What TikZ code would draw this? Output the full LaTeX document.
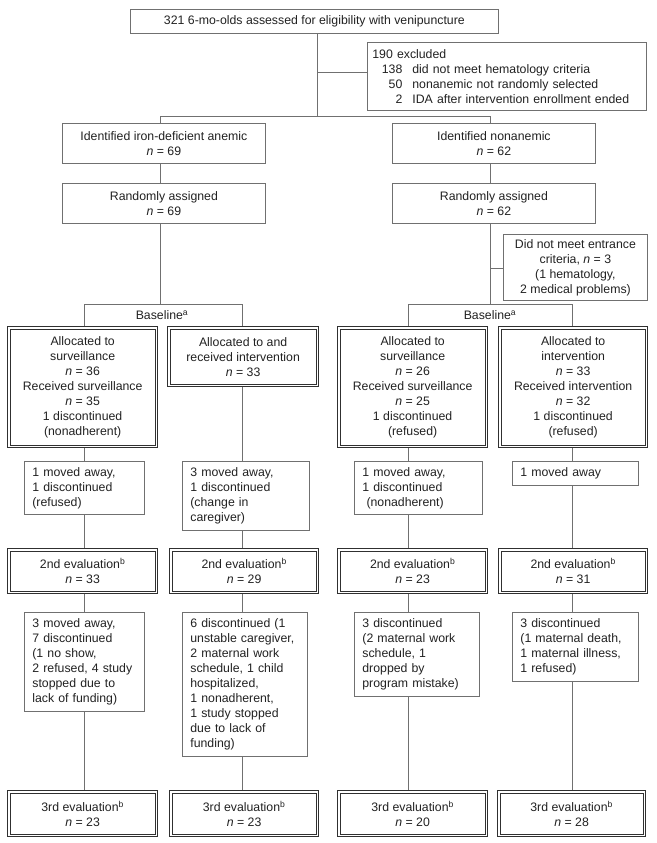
\documentclass[tikz,border=0pt]{standalone}
\usepackage{fontspec}
\setmainfont{Liberation Sans}
\definecolor{txt}{HTML}{222222}
\definecolor{ln}{HTML}{707070}
\definecolor{dln}{HTML}{303030}
\pgfdeclarelayer{bg}
\pgfsetlayers{bg,main}
\begin{document}
\begin{tikzpicture}[x=1pt,y=-1pt,
 every node/.style={font=\fontsize{12.3}{15}\selectfont, text=txt},
 sbox/.style={draw=ln, line width=0.8pt, inner sep=0pt, anchor=north west, align=center},
 lbox/.style={draw=ln, line width=0.8pt, inner xsep=8pt, inner ysep=0pt, anchor=north west, align=left},
 dbox/.style={draw=dln, line width=1.3pt, inner sep=0pt, anchor=north west, align=center},
 dinner/.style={draw=dln, line width=0.7pt},
 conn/.style={draw=ln, line width=0.8pt}]
\begin{pgfonlayer}{bg}
\fill[white] (0,0) rectangle (656,843);
\end{pgfonlayer}
\path[use as bounding box] (0,0) rectangle (656,843);

% top part
\node[sbox, minimum width=368, minimum height=24] (top) at (130,9) {321 6-mo-olds assessed for eligibility with venipuncture};
\node[sbox, align=left, inner xsep=5pt, text width=269, minimum width=279, minimum height=68] (exc) at (367,42)
 {190 excluded\\
  \makebox[30pt][r]{138}\hspace{10pt}did not meet hematology criteria\\
  \makebox[30pt][r]{50}\hspace{10pt}nonanemic not randomly selected\\
  \makebox[30pt][r]{2}\hspace{10pt}IDA after intervention enrollment ended};

\node[sbox, minimum width=203, minimum height=40] (id1) at (62,123) {Identified iron-deficient anemic\\\textit{n} = 69};
\node[sbox, minimum width=203, minimum height=40] (id2) at (392,123) {Identified nonanemic\\\textit{n} = 62};
\node[sbox, minimum width=203, minimum height=40] (rnd1) at (62,183) {Randomly assigned\\\textit{n} = 69};
\node[sbox, minimum width=203, minimum height=40] (rnd2) at (392,183) {Randomly assigned\\\textit{n} = 62};
\node[sbox, minimum width=144, minimum height=66] (dn) at (503,234) {Did not meet entrance\\criteria, \textit{n} = 3\\(1 hematology,\\2 medical problems)};

\node (bt1) at (162,315) {Baseline\textsuperscript{a}};
\node (bt2) at (490,315) {Baseline\textsuperscript{a}};

% allocation
\node[dbox, minimum width=150, minimum height=121] (a1) at (7,326) {Allocated to\\surveillance\\\textit{n} = 36\\Received surveillance\\\textit{n} = 35\\1 discontinued\\(nonadherent)};
\node[dbox, minimum width=151, minimum height=60] (a2) at (167,326) {Allocated to and\\received intervention\\\textit{n} = 33};
\node[dbox, minimum width=150, minimum height=121] (a3) at (337,326) {Allocated to\\surveillance\\\textit{n} = 26\\Received surveillance\\\textit{n} = 25\\1 discontinued\\(refused)};
\node[dbox, minimum width=149, minimum height=121] (a4) at (498,326) {Allocated to\\intervention\\\textit{n} = 33\\Received intervention\\\textit{n} = 32\\1 discontinued\\(refused)};

% losses before 2nd evaluation
\node[lbox, text width=104, minimum width=120, minimum height=53] (m1) at (24,461) {1 moved away,\\1 discontinued\\(refused)};
\node[lbox, text width=111, minimum width=127, minimum height=69] (m2) at (182,461) {3 moved away,\\1 discontinued\\(change in\\caregiver)};
\node[lbox, text width=112, minimum width=128, minimum height=53] (m3) at (354,461) {1 moved away,\\1 discontinued\\\ (nonadherent)};
\node[lbox, text width=110, minimum width=126, minimum height=24] (m4) at (512,461) {1 moved away};

% 2nd evaluation
\node[dbox, minimum width=150, minimum height=45] (e1) at (7,548) {2nd evaluation\textsuperscript{b}\\\textit{n} = 33};
\node[dbox, minimum width=149, minimum height=45] (e2) at (169,548) {2nd evaluation\textsuperscript{b}\\\textit{n} = 29};
\node[dbox, minimum width=150, minimum height=45] (e3) at (337,548) {2nd evaluation\textsuperscript{b}\\\textit{n} = 23};
\node[dbox, minimum width=149, minimum height=45] (e4) at (498,548) {2nd evaluation\textsuperscript{b}\\\textit{n} = 31};

% losses before 3rd evaluation
\node[lbox, text width=104, minimum width=120, minimum height=99] (r1) at (24,612) {3 moved away,\\7 discontinued\\(1 no show,\\2 refused, 4 study\\stopped due to\\lack of funding)};
\node[lbox, text width=109, minimum width=125, minimum height=144] (r2) at (182,612) {6 discontinued (1\\unstable caregiver,\\2 maternal work\\schedule, 1 child\\hospitalized,\\1 nonadherent,\\1 study stopped\\due to lack of\\funding)};
\node[lbox, text width=109, minimum width=125, minimum height=84] (r3) at (354,612) {3 discontinued\\(2 maternal work\\schedule, 1\\dropped by\\program mistake)};
\node[lbox, text width=110, minimum width=126, minimum height=69] (r4) at (512,612) {3 discontinued\\(1 maternal death,\\1 maternal illness,\\1 refused)};

% 3rd evaluation
\node[dbox, minimum width=150, minimum height=46] (f1) at (7,790) {3rd evaluation\textsuperscript{b}\\\textit{n} = 23};
\node[dbox, minimum width=149, minimum height=46] (f2) at (169,790) {3rd evaluation\textsuperscript{b}\\\textit{n} = 23};
\node[dbox, minimum width=150, minimum height=46] (f3) at (337,790) {3rd evaluation\textsuperscript{b}\\\textit{n} = 20};
\node[dbox, minimum width=148, minimum height=46] (f4) at (497,790) {3rd evaluation\textsuperscript{b}\\\textit{n} = 28};

% inner lines of the double frames
\foreach \b in {a1,a2,a3,a4,e1,e2,e3,e4,f1,f2,f3,f4}
  \draw[dinner] ([shift={(3.3,3.3)}]\b.north west) rectangle ([shift={(-3.3,-3.3)}]\b.south east);

% helper coordinates
\coordinate (j) at (317,116);
\coordinate (jb) at (317,72);
\coordinate (cl) at (160,0);
\coordinate (cr) at (490,0);
\coordinate (bl) at (0,304);
\coordinate (dnj) at (0,268);
\coordinate (c1) at (84,0);
\coordinate (c2) at (242,0);
\coordinate (c3) at (408,0);
\coordinate (c4) at (572,0);

\begin{pgfonlayer}{bg}
\draw[conn] (top.south -| j) -- (j);
\draw[conn] (jb) -- (exc.west |- jb);
\draw[conn] (id1.north -| cl) -- (cl |- j) -- (cr |- j) -- (id2.north -| cr);
\draw[conn] (id1.south -| cl) -- (rnd1.north -| cl);
\draw[conn] (id2.south -| cr) -- (rnd2.north -| cr);
\draw[conn] (rnd1.south -| cl) -- (cl |- bl);
\draw[conn] (rnd2.south -| cr) -- (cr |- bl);
\draw[conn] (dn.west |- dnj) -- (cr |- dnj);
\draw[conn] (a1.north -| c1) -- (c1 |- bl) -- (c2 |- bl) -- (a2.north -| c2);
\draw[conn] (a3.north -| c3) -- (c3 |- bl) -- (c4 |- bl) -- (a4.north -| c4);
\draw[conn] (a1.south -| c1) -- (m1.north -| c1);
\draw[conn] (a2.south -| c2) -- (m2.north -| c2);
\draw[conn] (a3.south -| c3) -- (m3.north -| c3);
\draw[conn] (a4.south -| c4) -- (m4.north -| c4);
\draw[conn] (m1.south -| c1) -- (e1.north -| c1);
\draw[conn] (m2.south -| c2) -- (e2.north -| c2);
\draw[conn] (m3.south -| c3) -- (e3.north -| c3);
\draw[conn] (m4.south -| c4) -- (e4.north -| c4);
\draw[conn] (e1.south -| c1) -- (r1.north -| c1);
\draw[conn] (e2.south -| c2) -- (r2.north -| c2);
\draw[conn] (e3.south -| c3) -- (r3.north -| c3);
\draw[conn] (e4.south -| c4) -- (r4.north -| c4);
\draw[conn] (r1.south -| c1) -- (f1.north -| c1);
\draw[conn] (r2.south -| c2) -- (f2.north -| c2);
\draw[conn] (r3.south -| c3) -- (f3.north -| c3);
\draw[conn] (r4.south -| c4) -- (f4.north -| c4);
\end{pgfonlayer}
\end{tikzpicture}
\end{document}
